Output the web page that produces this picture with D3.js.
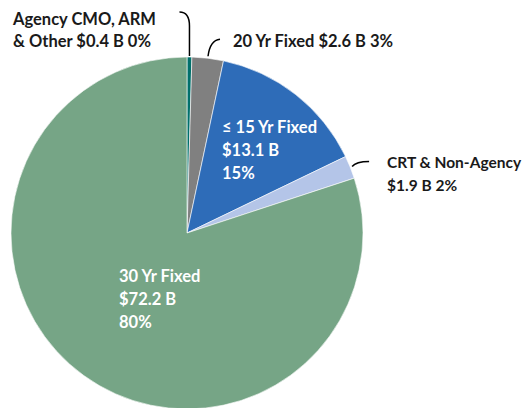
<!DOCTYPE html>
<html>
<head>
<meta charset="utf-8">
<script src="https://cdn.jsdelivr.net/npm/d3@7"></script>
<style>
  html, body { margin: 0; padding: 0; background: #fff; }
  svg text { font-family: Lato, "Open Sans", sans-serif; font-weight: 700; font-size: 16.5px; }
</style>
</head>
<body>
<svg id="chart" width="528" height="408"></svg>
<script>
'use strict';

// slices, clockwise from 12 o'clock
const categories = ['Agency CMO, ARM & Other', '20 Yr Fixed', '≤ 15 Yr Fixed', 'CRT & Non-Agency', '30 Yr Fixed'];
const amounts    = [0.4, 2.6, 13.1, 1.9, 72.2];
const percents   = ['0%', '3%', '15%', '2%', '80%'];
const colors     = ['#00706b', '#808080', '#2e6cb8', '#b4c5e8', '#76a586'];

// label text lines per slice
const labelLines = [
  ['Agency CMO, ARM', '& Other $0.4 B 0%'],
  ['20 Yr Fixed $2.6 B 3%'],
  ['≤ 15 Yr Fixed', '$13.1 B', '15%'],
  ['CRT & Non-Agency', '$1.9 B 2%'],
  ['30 Yr Fixed', '$72.2 B', '80%'],
];

const svg = d3.select('#chart');
const cx = 187, cy = 233, R = 176;

const pie = d3.pie().sort(null).value(d => d.v);
const arcs = pie(amounts.map((v, i) => ({ v, i })));
const arc = d3.arc().innerRadius(0).outerRadius(R);

const g = svg.append('g').attr('transform', `translate(${cx},${cy})`);
g.selectAll('path.slice')
  .data(arcs)
  .enter().append('path')
  .attr('class', 'slice')
  .attr('d', arc)
  .attr('fill', d => colors[d.data.i])
  .attr('stroke', '#fff')
  .attr('stroke-width', 0.6);

// point on the rim at the middle of a slice (absolute coords)
function rim(i, rr) {
  const a = (arcs[i].startAngle + arcs[i].endAngle) / 2;
  return [cx + rr * Math.sin(a), cy - rr * Math.cos(a)];
}

// leader lines for the small slices
const leaders = svg.append('g')
  .attr('fill', 'none').attr('stroke', '#000').attr('stroke-width', 1.5);

{
  const [x, y] = rim(0, R + 1);
  leaders.append('path')
    .attr('d', `M${x},${y} L${x},${y - 30} Q${x},${y - 44} ${x - 10},${y - 44}`);
}
{
  const [x, y] = rim(1, R + 2);
  leaders.append('path')
    .attr('d', `M${x},${y} Q${x + 2},${y - 16} ${x + 12},${y - 17}`);
}
{
  const [x, y] = rim(3, R + 2);
  leaders.append('path')
    .attr('d', `M${x},${y} Q${x + 4},${y - 5} ${x + 17},${y - 5}`);
}

// label anchors: [x, first baseline, colour, font size]
const labelPos = [
  [13, 25, '#1a1a1a', 16.5],
  [233, 47, '#1a1a1a', 16.5],
  [222, 133, '#fff', 16.5],
  [387, 168, '#1a1a1a', 15.5],
  [119, 282, '#fff', 16.5],
];
const lineGap = [22, 0, 23, 23, 23];

labelLines.forEach((lines, i) => {
  const [x, y, c, fs] = labelPos[i];
  const t = svg.append('text').attr('x', x).attr('y', y).attr('fill', c)
    .style('font-size', fs + 'px');
  lines.forEach((s, k) => {
    t.append('tspan').attr('x', x).attr('y', y + k * lineGap[i]).text(s);
  });
});
</script>
</body>
</html>
